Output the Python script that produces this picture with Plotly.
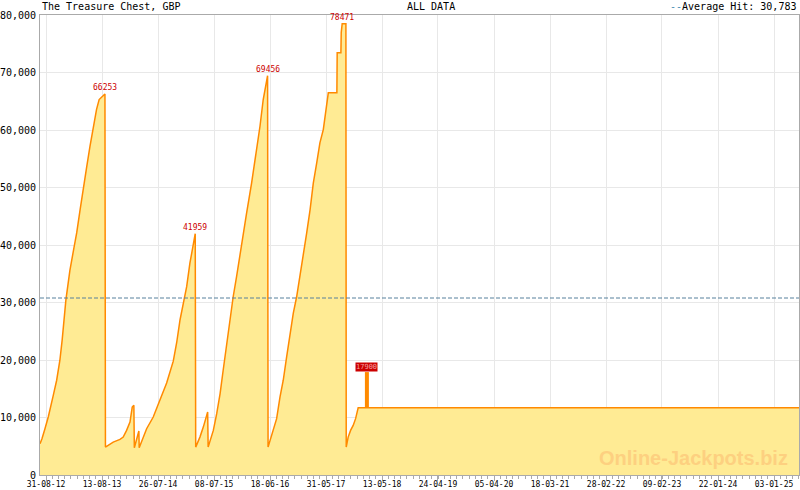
import pandas as pd
import plotly.graph_objects as go

# ---- data ----
dates = [
    "2012-07-25", "2012-08-06", "2012-08-25", "2012-09-14", "2012-10-15", "2012-11-05",
    "2012-11-25", "2012-12-09", "2013-01-01", "2013-01-26", "2013-02-20", "2013-03-09",
    "2013-03-30", "2013-04-19", "2013-05-10", "2013-05-30", "2013-06-19", "2013-07-10",
    "2013-07-26", "2013-08-31",
    "2013-09-03", "2013-10-21", "2013-12-02", "2013-12-22", "2014-01-12", "2014-02-02",
    "2014-02-16", "2014-02-26",
    "2014-03-01", "2014-03-15", "2014-03-29",
    "2014-03-31", "2014-04-25", "2014-05-16", "2014-06-26", "2014-08-06", "2014-09-17",
    "2014-10-28", "2014-11-18", "2014-12-09", "2014-12-29", "2015-01-19", "2015-02-08",
    "2015-03-01", "2015-03-13",
    "2015-03-16", "2015-04-11", "2015-05-02", "2015-05-29",
    "2015-06-01", "2015-07-03", "2015-07-24", "2015-08-14", "2015-09-02", "2015-09-23",
    "2015-10-14", "2015-11-03", "2015-11-24", "2015-12-15", "2016-01-04", "2016-01-25",
    "2016-02-25", "2016-03-27", "2016-04-17", "2016-05-07", "2016-05-24", "2016-06-03",
    "2016-06-06", "2016-06-18", "2016-07-08", "2016-07-29", "2016-08-19", "2016-09-08",
    "2016-09-29", "2016-10-19", "2016-11-09", "2016-11-30", "2016-12-21", "2017-01-10",
    "2017-01-31", "2017-02-21", "2017-03-13", "2017-04-03", "2017-04-23", "2017-05-14",
    "2017-05-24", "2017-06-14", "2017-08-06", "2017-08-08", "2017-08-31", "2017-09-02",
    "2017-09-08", "2017-10-01",
    "2017-10-03", "2017-10-15", "2017-10-30", "2017-11-15", "2017-11-30", "2017-12-16",
    "2025-06-07",
]
values = [
    5440, 6300, 8100, 10080, 13860, 16480,
    19960, 23450, 30400, 35600, 39500, 42100,
    46100, 50100, 53600, 57100, 60600, 63600,
    65300, 66253,
    4850, 5720, 6190, 6590, 7760, 9210,
    11820, 12120,
    4740, 6020, 7640,
    4740, 6590, 8050, 10080, 13000, 16000,
    19800, 23000, 27000, 29850, 32750, 36830,
    39720, 41959,
    4850, 6590, 8330, 10950,
    4850, 7760, 10660, 14160, 18220, 22880,
    27520, 31000, 34490, 37980, 42060, 45540,
    50770, 56580, 60650, 65300, 68210, 69456,
    4850, 6020, 7760, 9800, 13570, 16480,
    20540, 24620, 28110, 31000, 34490, 37980,
    42060, 46120, 50770, 54260, 57750, 60070,
    62390, 66460, 66460, 73440, 73440, 76930,
    78471, 78471,
    4850, 6590, 7760, 8630, 9800, 11700,
    11700,
]

side_hit_date = "2018-02-08"
side_hit_base = 11700
side_hit_value = 17900

average_hit = 30783

tick_labels = ["31-08-12", "13-08-13", "26-07-14", "08-07-15", "18-06-16", "31-05-17",
               "13-05-18", "24-04-19", "05-04-20", "18-03-21", "28-02-22", "09-02-23",
               "22-01-24", "03-01-25"]

title_left = "The Treasure Chest, GBP"
title_mid = "ALL DATA"
watermark = "Online-Jackpots.biz"

# ---- figure ----
MONO = "DejaVu Sans Mono"
ORANGE = "#ff8a00"
FILL = "#ffeb94"
RED = "#cc0000"
GRID = "#e8e8e8"
AXIS = "#aaaaaa"
AVG = "#4d8fb5"

tick_vals = pd.to_datetime(tick_labels, format="%d-%m-%y")

fig = go.Figure()
fig.add_trace(go.Scatter(
    x=dates, y=values, mode="lines", line_shape="linear",
    line=dict(color=ORANGE, width=1.5), fill="tozeroy", fillcolor=FILL,
    hoverinfo="skip", showlegend=False,
))
fig.add_trace(go.Scatter(
    x=[side_hit_date, side_hit_date], y=[side_hit_base, side_hit_value], mode="lines",
    line=dict(color=ORANGE, width=4), hoverinfo="skip", showlegend=False,
))

# average line
fig.add_shape(type="line", xref="paper", x0=0, x1=1, yref="y", y0=average_hit, y1=average_hit,
              line=dict(color="#56809c", width=1, dash="4px,2px"), layer="above")

annotations = []
# peak labels: points followed by a large drop
for i in range(len(values) - 1):
    if values[i] - values[i + 1] > 20000:
        j = i - 1 if (i > 0 and values[i - 1] == values[i]) else i
        annotations.append(dict(x=dates[j], y=values[i], xref="x", yref="y", text=str(values[i]),
                                showarrow=False, xanchor="center", yanchor="bottom", yshift=0,
                                font=dict(family=MONO, size=8, color=RED)))
annotations.append(dict(x=side_hit_date, y=side_hit_value, xref="x", yref="y", text=str(side_hit_value),
                        showarrow=False, xanchor="center", yanchor="bottom", borderpad=0,
                        bgcolor=RED, font=dict(family=MONO, size=7, color="#f3a0a0")))

annotations += [
    dict(x=0, y=1.0174, xref="paper", yref="paper", text=title_left, showarrow=False,
         xanchor="left", yanchor="middle", font=dict(family=MONO, size=10, color="#000")),
    dict(x=(405 - 40) / 759, y=1.0174, xref="paper", yref="paper", text=title_mid, showarrow=False,
         xanchor="left", yanchor="middle", font=dict(family=MONO, size=10, color="#000")),
    dict(x=(798 - 40) / 759, y=1.0174, xref="paper", yref="paper",
         text="<span style='color:" + AVG + "'>--</span>Average Hit: " + f"{average_hit:,}",
         showarrow=False, xanchor="right", yanchor="middle",
         font=dict(family=MONO, size=10, color="#000")),
    dict(x=(790 - 40) / 759, y=(475 - 458) / 460, xref="paper", yref="paper", text="<b>" + watermark + "</b>",
         showarrow=False, xanchor="right", yanchor="middle",
         font=dict(family="Liberation Sans", size=20, color="#fdd080")),
]

fig.update_layout(
    width=800, height=490,
    margin=dict(l=40, r=1, t=15, b=15, autoexpand=False),
    paper_bgcolor="white", plot_bgcolor="white",
    annotations=annotations,
    xaxis=dict(
        type="date", range=["2012-07-24 20:00", "2025-06-06 12:00"],
        tickmode="array", tickvals=tick_vals, ticktext=tick_labels,
        ticks="outside", ticklen=5, tickcolor=AXIS, tickwidth=1,
        tickfont=dict(family=MONO, size=8, color="#000"),
        ticklabelstandoff=-4, automargin=False,
        showgrid=True, gridcolor=GRID, gridwidth=1,
        showline=True, linecolor=AXIS, linewidth=1, mirror=True,
        minor=dict(tick0="2012-08-31", dtick=3328800000, ticks="outside", ticklen=3,
                   tickcolor=AXIS, showgrid=False),
        zeroline=False, fixedrange=True,
    ),
    yaxis=dict(
        range=[0, 80000], dtick=10000, tickformat=",d",
        tickfont=dict(family=MONO, size=10, color="#000"),
        showgrid=True, gridcolor=GRID, gridwidth=1,
        showline=True, linecolor=AXIS, linewidth=1, mirror=True,
        ticks="", ticklabelstandoff=1, automargin=False, zeroline=False, fixedrange=True,
    ),
)

fig.write_html(
    "out.html",
    config={"displayModeBar": False, "staticPlot": True},
    post_script="document.body.style.margin='0';document.body.style.padding='0';",
)
